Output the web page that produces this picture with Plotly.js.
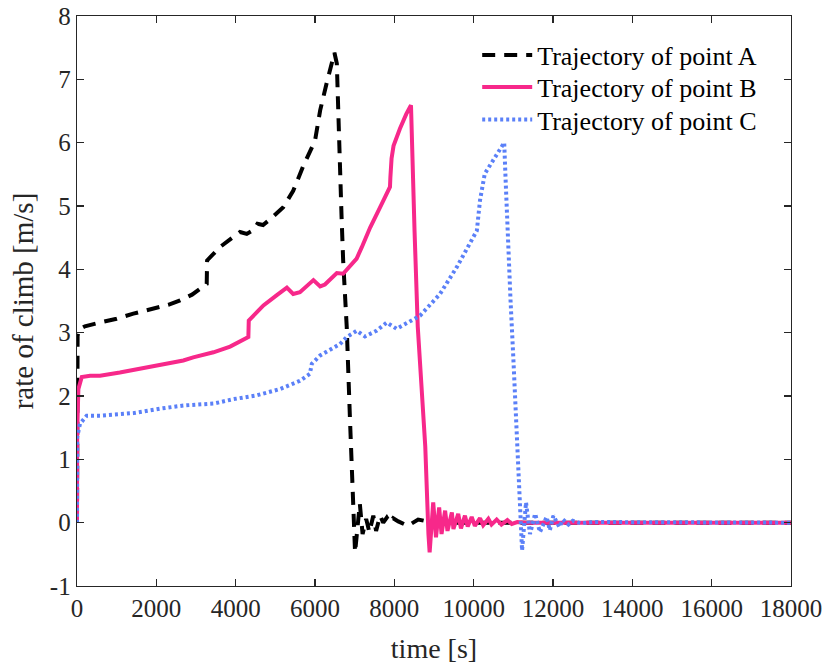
<!DOCTYPE html>
<html>
<head>
<meta charset="utf-8">
<script src="https://cdn.plot.ly/plotly-3.0.1.min.js"></script>
<style>html,body{margin:0;padding:0;background:#fff;}#chart{width:827px;height:664px;}</style>
</head>
<body>
<div id="chart"></div>
<script>
// Trajectory of point A
const aTime = [0,15,50,200,580,1000,1420,1920,2300,2600,2900,3270,3280,3600,3900,4110,4280,4450,4550,4690,4850,5200,5450,5710,6000,6130,6290,6460,6490,6550,6590,6630,6670,6710,6800,6880,6950,7010,7130,7200,7290,7370,7470,7540,7640,7720,7810,7890,7970,8100,8340,8600,9000,18000];
const aRate = [0,2.95,3.05,3.1,3.16,3.22,3.30,3.38,3.44,3.51,3.60,3.77,4.14,4.35,4.50,4.59,4.56,4.62,4.72,4.70,4.78,4.98,5.24,5.64,6.03,6.51,6.93,7.40,7.42,7.25,6.30,5.51,4.82,4.14,3.09,1.66,0.40,-0.47,0.30,-0.18,0.06,-0.15,0.11,-0.13,0.11,0.0,0.08,0.0,0.07,0.02,-0.05,0.05,0,0];

// Trajectory of point B
const bTime = [0,5,35,120,330,580,1080,1420,1760,2260,2680,2930,3440,3860,4320,4330,4530,4700,5030,5290,5450,5620,5960,6130,6250,6550,6710,7050,7180,7390,7680,7890,7900,7930,7980,8060,8140,8300,8420,8510,8590,8700,8780,8860,8890,8980,9050,9130,9190,9280,9340,9450,9490,9610,9680,9780,9850,9950,10030,10160,10240,10370,10450,10580,10700,10850,10960,11100,11300,18000];
const bRate = [0,1.45,2.11,2.30,2.32,2.32,2.37,2.41,2.46,2.51,2.56,2.61,2.69,2.78,2.93,3.19,3.32,3.43,3.59,3.71,3.61,3.64,3.83,3.73,3.76,3.94,3.93,4.17,4.35,4.66,5.03,5.30,5.45,5.75,5.95,6.10,6.22,6.45,6.59,4.6,3.1,2.0,1.2,-0.18,-0.47,0.32,-0.23,0.24,-0.18,0.19,-0.13,0.16,-0.10,0.14,-0.09,0.11,-0.06,0.09,-0.05,0.07,-0.04,0.06,-0.03,0.05,-0.03,0.04,-0.02,0.01,0,0];

// Trajectory of point C
const cTime = [0,5,75,245,580,1080,1420,2090,2680,3440,3940,4530,5120,5620,5870,5920,6130,6630,6800,7050,7260,7550,7810,8060,8560,8650,9150,9570,10080,10160,10280,10490,10760,10770,10800,10860,10930,11000,11060,11130,11170,11220,11320,11420,11550,11670,11840,11920,12010,12160,12250,12390,12500,12700,13000,18000];
const cRate = [0,1.35,1.56,1.69,1.69,1.72,1.73,1.80,1.85,1.88,1.95,2.01,2.11,2.24,2.35,2.51,2.64,2.82,2.93,3.03,2.94,3.03,3.16,3.06,3.25,3.27,3.61,4.03,4.61,5.09,5.51,5.72,5.98,6.0,5.5,4.5,3.5,2.6,1.8,0.87,0.14,-0.44,0.32,-0.18,0.14,-0.15,0.09,-0.12,0.11,-0.07,0.05,-0.03,0.03,-0.01,0.01,0];

const xTickVals = [0,2000,4000,6000,8000,10000,12000,14000,16000,18000];
const xTickText = ['0','2000','4000','6000','8000','10000','12000','14000','16000','18000'];
const yTickVals = [-1,0,1,2,3,4,5,6,7,8];
const yTickText = ['-1','0','1','2','3','4','5','6','7','8'];

const seriesNames = ['Trajectory of point A','Trajectory of point B','Trajectory of point C'];

const FONT = 'Liberation Serif, Times New Roman, serif';
const AX = '#262626';

const traces = [
  {x: aTime, y: aRate, name: seriesNames[0], mode: 'lines', legend: 'legend', line: {color: '#000000', width: 4, dash: '13px,9px'}},
  {x: bTime, y: bRate, name: seriesNames[1], mode: 'lines', legend: 'legend2', line: {color: '#F7288A', width: 4}},
  {x: cTime, y: cRate, name: seriesNames[2], mode: 'lines', legend: 'legend3', line: {color: '#5B80F8', width: 4, dash: '3px,3px'}}
];

const axisCommon = {
  showgrid: false, zeroline: false, showline: true, mirror: 'ticks',
  linecolor: AX, linewidth: 1.3, ticks: 'inside', ticklen: 7, tickwidth: 1.3, tickcolor: AX,
  tickfont: {family: FONT, size: 25, color: AX}
};

function leg(y) {
  return {x: 0.5605, y: y, xanchor: 'left', yanchor: 'top', bgcolor: 'rgba(0,0,0,0)', itemwidth: 50,
          font: {family: FONT, size: 26, color: '#000'}};
}

const layout = {
  width: 827, height: 664,
  margin: {l: 77, r: 36, t: 16, b: 78},
  paper_bgcolor: '#ffffff', plot_bgcolor: '#ffffff',
  font: {family: FONT, color: AX},
  showlegend: true,
  legend: leg(0.9726),
  legend2: leg(0.9164),
  legend3: leg(0.8596),
  xaxis: Object.assign({}, axisCommon, {
    range: [0, 18000], tickmode: 'array', tickvals: xTickVals, ticktext: xTickText,
    title: {text: 'time [s]', font: {family: FONT, size: 28, color: AX}, standoff: 17}
  }),
  yaxis: Object.assign({}, axisCommon, {
    range: [-1, 8], tickmode: 'array', tickvals: yTickVals, ticktext: yTickText,
    title: {text: 'rate of climb [m/s]', font: {family: FONT, size: 29, color: AX}, standoff: 7}
  })
};

Plotly.newPlot('chart', traces, layout, {staticPlot: true, displayModeBar: false});
</script>
</body>
</html>
